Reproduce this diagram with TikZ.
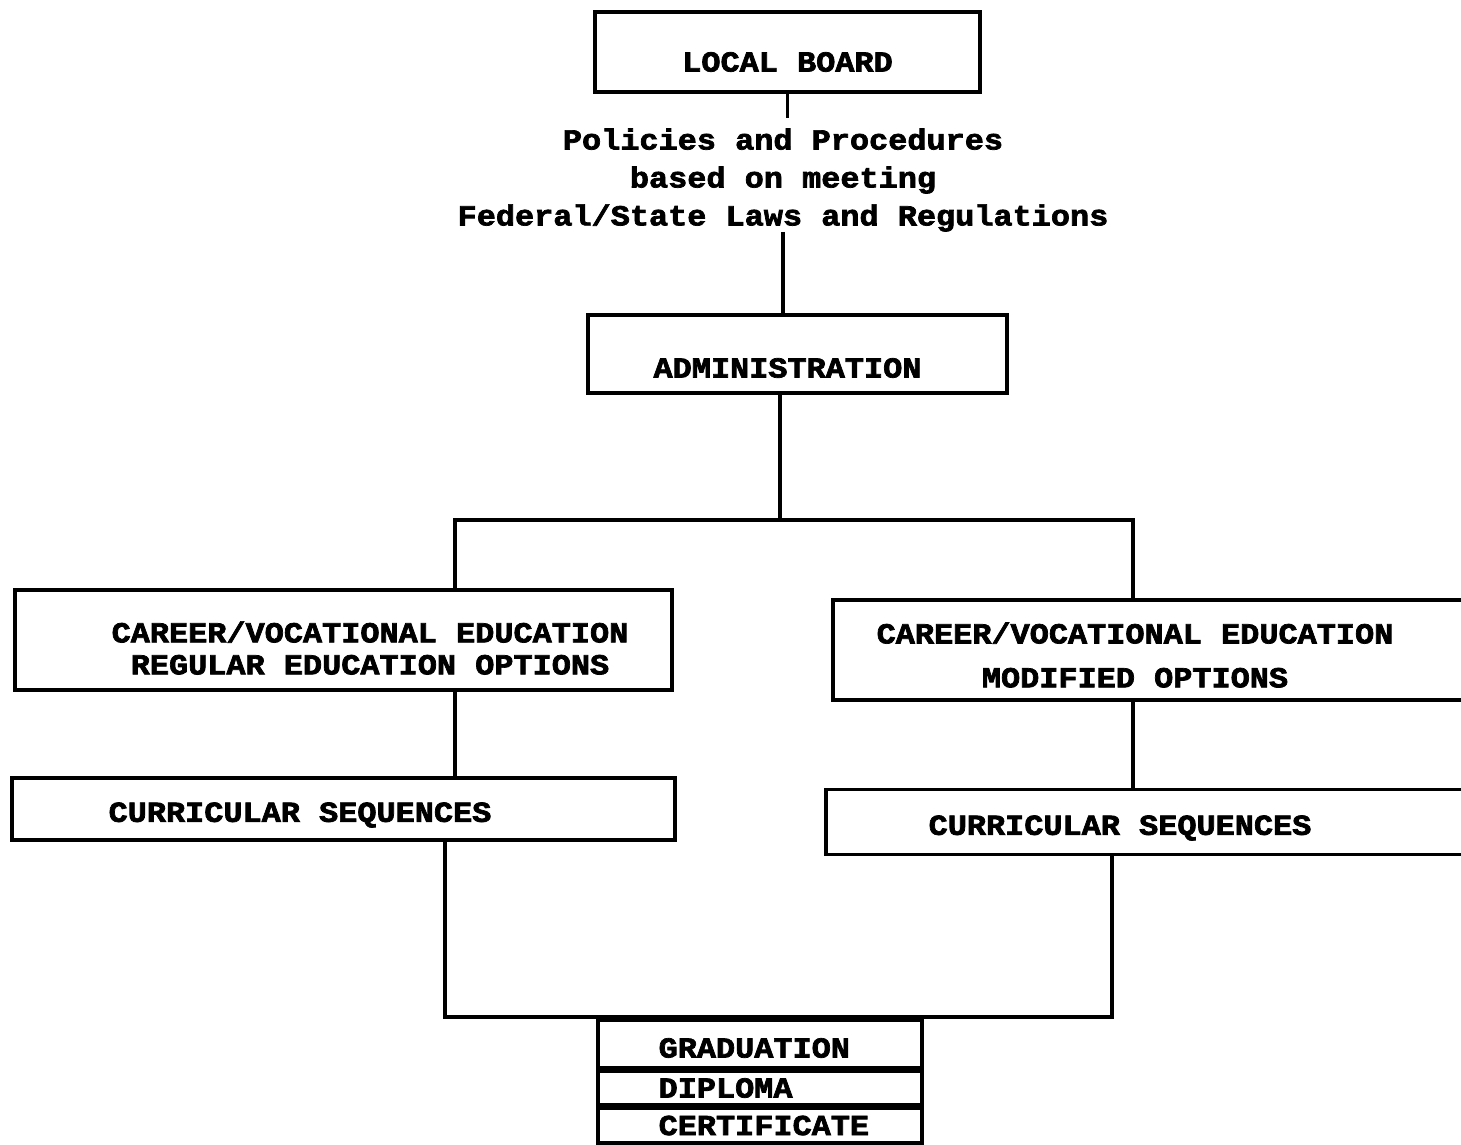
\documentclass[tikz,border=0pt]{standalone}
\usepackage{fontspec}
\newfontfamily\typefont[FakeStretch=1.1,BoldFeatures={FakeBold=2.5}]{Liberation Mono}
\usetikzlibrary{positioning}
\tikzset{
  box/.style={draw, line width=2pt, inner sep=0pt},
  txt/.style={font=\typefont\bfseries\fontsize{16.5}{18.2}\selectfont, align=center, inner sep=0pt},
  link/.style={line width=2pt},
}

\begin{document}
\begin{tikzpicture}
    \useasboundingbox (0,0) rectangle (29.22,-22.9);
    % board, policies, administration
    \node[box, minimum width=7.7cm, minimum height=1.6cm, label={[txt, yshift=-0.2cm]center:LOCAL BOARD}] (board) at (15.75,-1.04) {};
    \node[txt] (policy) at (15.66,-3.6) {Policies and Procedures\\[3.4pt] based on meeting\\[3.4pt] Federal/State Laws and Regulations};
    \node[box, minimum width=8.38cm, minimum height=1.56cm, label={[txt, xshift=-0.2cm, yshift=-0.28cm]center:ADMINISTRATION}] (admin) at (15.95,-7.08) {};

    % the two branches
    \node[box, minimum width=13.14cm, minimum height=2cm, label={[txt, xshift=0.53cm, yshift=-0.16cm]center:{CAREER/VOCATIONAL EDUCATION\\REGULAR EDUCATION OPTIONS}}] (lcareer) at (6.87,-12.8) {};
    \node[box, minimum width=13.14cm, minimum height=2cm, label={[txt, xshift=-0.53cm, yshift=-0.1cm]center:{CAREER/VOCATIONAL EDUCATION\\[6.8pt]MODIFIED OPTIONS}}] (rcareer) at (23.23,-13.0) {};
    \node[box, minimum width=13.26cm, minimum height=1.24cm, label={[txt, xshift=-0.87cm, yshift=-0.12cm]center:CURRICULAR SEQUENCES}] (lseq) at (6.87,-16.18) {};
    \node[box, minimum width=13.28cm, minimum height=1.3cm, label={[txt, xshift=-0.76cm, yshift=-0.12cm]center:CURRICULAR SEQUENCES}] (rseq) at (23.16,-16.44) {};

    % outcome
    \node[box, minimum width=6.48cm, minimum height=0.96cm, label={[txt, anchor=west, xshift=1.24cm, yshift=-0.08cm]west:GRADUATION}] (grad) at (15.2,-20.88) {};
    \node[box, minimum width=6.48cm, minimum height=0.66cm, below=0pt of grad, label={[txt, anchor=west, xshift=1.24cm]west:DIPLOMA}] (dipl) {};
    \node[box, minimum width=6.48cm, minimum height=0.7cm, below=0pt of dipl, label={[txt, anchor=west, xshift=1.24cm]west:CERTIFICATE}] (cert) {};

    \coordinate (policytop) at (15.75,-2.36);
    \coordinate (split) at (15.6,-10.4);
    \coordinate (lbend) at (9.1,-10.4);
    \coordinate (rbend) at (22.66,-10.4);
    \coordinate (lfoot) at (8.9,-20.34);
    \coordinate (rfoot) at (22.24,-20.34);

    \draw[link] (board.south) -- (policytop);
    \draw[link] (policy.south) -- (policy.south |- admin.north);
    \draw[link] (admin.south -| split) -- (split);
    \draw[link] (lcareer.north -| lbend) -- (lbend) -- (rbend) -- (rcareer.north -| rbend);
    \draw[link] (lcareer.south -| lbend) -- (lseq.north -| lbend);
    \draw[link] (rcareer.south -| rbend) -- (rseq.north -| rbend);
    \draw[link] (lseq.south -| lfoot) -- (lfoot) -- (rfoot) -- (rseq.south -| rfoot);
\end{tikzpicture}
\end{document}
